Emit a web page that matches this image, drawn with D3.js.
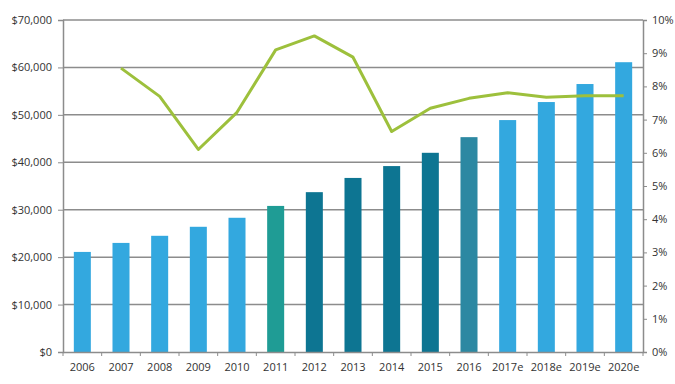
<!DOCTYPE html>
<html lang="en">
<head>
  <meta charset="UTF-8">
  <title>Revenue and growth</title>
  <style>
    body { margin: 0; background: #fff; }
    svg text { font-family: "Open Sans", "Liberation Sans", sans-serif; font-size: 11px; fill: #333; }
  </style>
</head>
<body>
  <svg class="chart"></svg>
  <script src="https://cdn.jsdelivr.net/npm/d3@7"></script>
  <script>
    var years = ["2006", "2007", "2008", "2009", "2010", "2011", "2012", "2013",
                 "2014", "2015", "2016", "2017e", "2018e", "2019e", "2020e"];
    var revenue = [21100, 23000, 24500, 26400, 28300, 30800, 33700, 36700,
                   39200, 42000, 45300, 48900, 52700, 56500, 61100];
    // growth rate, no value for 2006
    var growth = [null, 8.55, 7.7, 6.1, 7.22, 9.1, 9.52, 8.88,
                  6.64, 7.34, 7.64, 7.81, 7.67, 7.72, 7.72];
    var barColors = ["#33a8df", "#33a8df", "#33a8df", "#33a8df", "#33a8df",
                     "#1f9c95", "#0d7592", "#0d7592", "#0d7592", "#0d7592",
                     "#2c88a2", "#33a8df", "#33a8df", "#33a8df", "#33a8df"];
    var leftTicks = [0, 10000, 20000, 30000, 40000, 50000, 60000, 70000];
    var rightTicks = [0, 1, 2, 3, 4, 5, 6, 7, 8, 9, 10];

    // note: "top" is taken by window.top, so use a margin object
    var w = 675, h = 384,
        m = { left: 63, right: 643, top: 20, bottom: 352 };

    var svg = d3.select(".chart").attr("width", w).attr("height", h);

    var x = d3.scaleBand().domain(years).range([m.left, m.right]).paddingInner(0.56).paddingOuter(0.28);
    var y = d3.scaleLinear().domain([0, 70000]).range([m.bottom, m.top]);
    var y2 = d3.scaleLinear().domain([0, 10]).range([m.bottom, m.top]);

    // gridlines
    svg.append("g").selectAll("line")
      .data(leftTicks.slice(1))
      .enter().append("line")
        .attr("x1", m.left).attr("x2", m.right)
        .attr("y1", d => y(d)).attr("y2", d => y(d))
        .attr("stroke", "#8c8c8c").attr("stroke-width", 1.5);

    // bars
    svg.append("g").selectAll("rect")
      .data(revenue)
      .enter().append("rect")
        .attr("x", (d, i) => x(years[i]))
        .attr("y", d => y(d))
        .attr("width", x.bandwidth())
        .attr("height", d => m.bottom - y(d))
        .attr("fill", (d, i) => barColors[i]);

    // left axis
    var fmt = d3.format("$,");
    var gl = svg.append("g").attr("transform", `translate(${m.left},0)`)
      .call(d3.axisLeft(y).tickValues(leftTicks).tickFormat(fmt).tickSize(5).tickPadding(6));
    gl.select(".domain").attr("stroke", "#8c8c8c").attr("stroke-width", 1.5);
    gl.selectAll(".tick line").attr("stroke", "#8c8c8c");

    // right axis
    var gr = svg.append("g").attr("transform", `translate(${m.right},0)`)
      .call(d3.axisRight(y2).tickValues(rightTicks).tickFormat(d => d + "%").tickSize(4).tickPadding(5));
    gr.select(".domain").attr("stroke", "#8c8c8c").attr("stroke-width", 1.5);
    gr.selectAll(".tick line").attr("stroke", "#8c8c8c");

    // bottom axis
    var gb = svg.append("g").attr("transform", `translate(0,${m.bottom})`)
      .call(d3.axisBottom(x).tickSize(0).tickPadding(9));
    gb.select(".domain").attr("stroke", "#8c8c8c").attr("stroke-width", 1.5);
    gb.selectAll(".tick text").attr("dy", "0.9em");
    var step = x.step();
    gb.append("g").selectAll("line")
      .data(d3.range(years.length + 1))
      .enter().append("line")
        .attr("x1", i => m.left + i * step).attr("x2", i => m.left + i * step)
        .attr("y1", 0).attr("y2", 4)
        .attr("stroke", "#8c8c8c");

    // growth line
    var line = d3.line()
      .defined(d => d !== null)
      .x((d, i) => x(years[i]) + x.bandwidth() / 2)
      .y(d => y2(d));
    svg.append("path")
      .datum(growth)
      .attr("d", line)
      .attr("fill", "none")
      .attr("stroke", "#9dc03c")
      .attr("stroke-width", 3)
      .attr("stroke-linejoin", "round");
  </script>
</body>
</html>
